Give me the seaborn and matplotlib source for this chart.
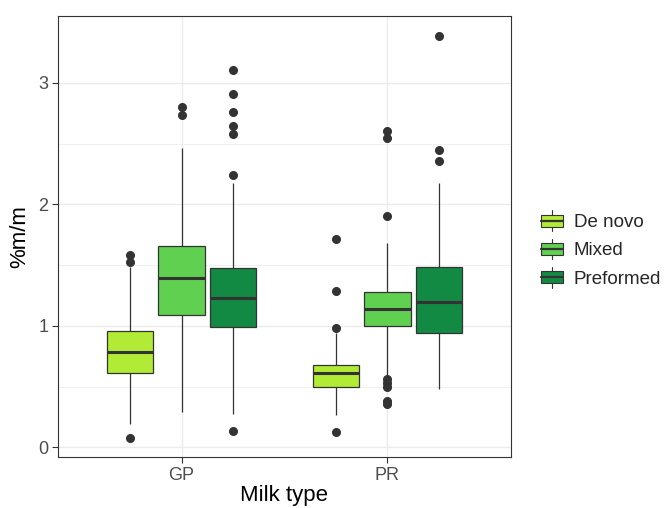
import numpy as np
import pandas as pd
import seaborn as sns
import matplotlib
matplotlib.use("Agg")
import matplotlib.pyplot as plt
from matplotlib.patches import Rectangle
from matplotlib.lines import Line2D
from matplotlib.legend_handler import HandlerBase

# Fat content (%m/m) per milk type and fatty-acid origin
milk_types = ["GP", "PR"]
fa_groups = ["De novo", "Mixed", "Preformed"]

gp_de_novo = [0.078, 0.19, 0.42, 0.61, 0.68, 0.74, 0.787, 0.84, 0.90, 0.961,
              1.485, 1.525, 1.58]
gp_mixed = [0.288, 0.75, 0.95, 1.09, 1.20, 1.30, 1.39, 1.47, 1.56, 1.653,
            2.466, 2.735, 2.798]
gp_preformed = [0.134, 0.277, 0.55, 0.70, 0.80, 0.88, 0.95, 0.994,
                1.03, 1.07, 1.11, 1.15, 1.18, 1.21, 1.23,
                1.27, 1.31, 1.35, 1.39, 1.42, 1.45, 1.477,
                2.175, 2.243, 2.576, 2.647, 2.757, 2.908, 3.105]
pr_de_novo = [0.126, 0.267, 0.38, 0.45, 0.497, 0.53, 0.56, 0.59, 0.608,
              0.63, 0.65, 0.665, 0.677, 0.94, 0.982, 1.287, 1.718]
pr_mixed = [0.355, 0.38, 0.495, 0.53, 0.566, 0.585, 0.997,
            1.03, 1.06, 1.09, 1.11, 1.125, 1.139,
            1.16, 1.19, 1.22, 1.245, 1.265, 1.277,
            1.40, 1.55, 1.683, 1.905, 2.548, 2.603]
pr_preformed = [0.483, 0.70, 0.82, 0.90, 0.939, 1.02, 1.09, 1.15, 1.197,
                1.27, 1.35, 1.42, 1.485, 2.175, 2.356, 2.446, 3.388]

series = {
    ("GP", "De novo"): gp_de_novo,
    ("GP", "Mixed"): gp_mixed,
    ("GP", "Preformed"): gp_preformed,
    ("PR", "De novo"): pr_de_novo,
    ("PR", "Mixed"): pr_mixed,
    ("PR", "Preformed"): pr_preformed,
}
rows = [(m, g, v) for (m, g), vals in series.items() for v in vals]
df = pd.DataFrame(rows, columns=["Milk type", "group", "value"])

colors = ["#B2EB36", "#5FD050", "#128A43"]
edge = "#333333"

sns.set_theme(style="white")
plt.rcParams["font.family"] = ["Liberation Sans", "DejaVu Sans"]

fig = plt.figure(figsize=(6.68, 5.08), dpi=100)
ax = fig.add_axes([0.0868, 0.1004, 0.678, 0.8681])

sns.boxplot(
    data=df, x="Milk type", y="value", hue="group",
    order=milk_types, hue_order=fa_groups, palette=colors,
    width=0.75, gap=0.1, linecolor=edge, linewidth=0.9,
    showcaps=False, saturation=1,
    medianprops={"linewidth": 2.2, "color": edge},
    flierprops={"marker": "o", "markerfacecolor": edge,
                "markeredgecolor": edge, "markersize": 5.5},
    ax=ax, zorder=3,
)

ax.set_xlim(-0.6, 1.6)
ax.set_ylim(-0.08, 3.55)
ax.set_yticks([0, 1, 2, 3])
ax.set_yticks([0.5, 1.5, 2.5], minor=True)

ax.grid(True, which="major", color="#EBEBEB", linewidth=1.0, zorder=0)
ax.grid(True, which="minor", axis="y", color="#EBEBEB", linewidth=0.55, zorder=0)
ax.set_axisbelow(True)

for s in ax.spines.values():
    s.set_color("#333333")
    s.set_linewidth(0.8)

ax.tick_params(axis="both", which="major", length=4, width=0.8, color="#333333",
               labelsize=13, labelcolor="#4D4D4D", pad=3, direction="out",
               bottom=True, left=True)
ax.tick_params(axis="y", which="minor", length=0)

ax.set_xlabel("Milk type", fontsize=16, color="black", labelpad=1)
ax.set_ylabel("%m/m", fontsize=16, color="black", labelpad=6)


class BoxKeyHandler(HandlerBase):
    def create_artists(self, legend, orig_handle, xdescent, ydescent,
                       width, height, fontsize, trans):
        fc = orig_handle.get_facecolor()
        cx = -xdescent + width / 2
        cy = -ydescent + height / 2
        bw = width
        bh = height * 0.68
        y0 = cy - bh / 2
        box = Rectangle((cx - bw / 2, y0), bw, bh, facecolor=fc,
                        edgecolor=edge, linewidth=0.8, transform=trans)
        mid = Line2D([cx - bw / 2, cx + bw / 2], [cy, cy],
                     color=edge, linewidth=1.6, transform=trans)
        wt = Line2D([cx, cx], [y0 + bh, cy + height * 0.62],
                    color=edge, linewidth=0.8, transform=trans)
        wb = Line2D([cx, cx], [y0, cy - height * 0.62],
                    color=edge, linewidth=0.8, transform=trans)
        return [wt, wb, box, mid]


handles = [Rectangle((0, 0), 1, 1, facecolor=c) for c in colors]
ax.legend(handles, fa_groups, handler_map={Rectangle: BoxKeyHandler()},
          loc="center left", bbox_to_anchor=(541 / 668, 1 - 250 / 508),
          bbox_transform=fig.transFigure, frameon=False,
          fontsize=13.5, handlelength=1.15, handleheight=1.0,
          handletextpad=0.6, labelspacing=0.5, borderaxespad=0, borderpad=0)

fig.savefig("out.png", dpi=100)
